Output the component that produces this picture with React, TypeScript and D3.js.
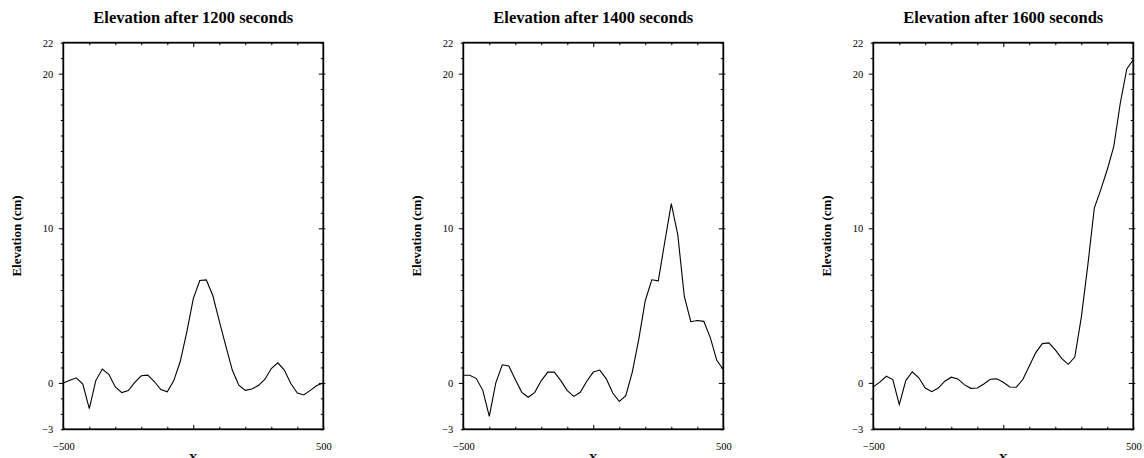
import React, { useEffect, useRef } from "react";
import * as d3 from "d3";

// x positions (shared by all three snapshots)
const xVals = [
  -500, -475, -450, -425, -400, -375, -350, -325, -300, -275, -250, -225, -200, -175,
  -150, -125, -100, -75, -50, -25, 0, 25, 50, 75, 100, 125, 150, 175, 200, 225, 250,
  275, 300, 325, 350, 375, 400, 425, 450, 475, 500,
];

const elev1200 = [
  0, 0.17, 0.33, -0.07, -1.67, 0.15, 0.9, 0.56, -0.26, -0.63, -0.5, 0.04, 0.46, 0.5,
  0.09, -0.43, -0.57, 0.15, 1.4, 3.3, 5.45, 6.62, 6.66, 5.65, 4.0, 2.4, 0.83, -0.15,
  -0.48, -0.4, -0.17, 0.22, 0.93, 1.3, 0.83, -0.04, -0.65, -0.78, -0.48, -0.17, 0,
];

const elev1400 = [
  0.5, 0.5, 0.28, -0.48, -2.17, 0, 1.17, 1.09, 0.22, -0.61, -0.93, -0.61, 0.15, 0.7,
  0.7, 0.15, -0.5, -0.87, -0.61, 0.11, 0.7, 0.83, 0.26, -0.65, -1.2, -0.83, 0.7, 2.83,
  5.33, 6.67, 6.6, 9.13, 11.59, 9.57, 5.6, 3.96, 4.04, 3.98, 2.93, 1.46, 0.87,
];

const elev1600 = [
  -0.26, 0.05, 0.43, 0.22, -1.41, 0.15, 0.72, 0.33, -0.33, -0.57, -0.33, 0.11, 0.37,
  0.26, -0.11, -0.35, -0.33, -0.07, 0.24, 0.26, 0.04, -0.26, -0.28, 0.22, 1.09, 1.96,
  2.54, 2.59, 2.13, 1.57, 1.2, 1.67, 4.24, 7.6, 11.3, 12.5, 13.8, 15.3, 18.1, 20.3, 20.9,
];

const seconds = [1200, 1400, 1600];
const yTickLabels = [-3, 0, 10, 20, 22];
const xTickLabels = [-500, 500];

const font = "'Liberation Serif', 'Times New Roman', serif";

export default function App() {
  const svgRef = useRef<SVGSVGElement>(null);

  useEffect(() => {
    const width = 1144;
    const height = 458;
    const svg = d3.select(svgRef.current).attr("width", width).attr("height", height);
    svg.selectAll("*").remove();

    const series = [elev1200, elev1400, elev1600];
    const lefts = [63.3, 463.3, 873.3];
    const plotW = 260;
    const top = 42.7;
    const bottom = 429.3;

    const y = d3.scaleLinear().domain([-3, 22]).range([bottom, top]);
    const fmt = (v: number) => String(v).replace("-", "\u2212");

    series.forEach((vals, k) => {
      const x = d3.scaleLinear().domain([-500, 500]).range([lefts[k], lefts[k] + plotW]);
      const g = svg.append("g");

      // title
      g.append("text")
        .attr("x", lefts[k] + plotW / 2)
        .attr("y", 23)
        .attr("text-anchor", "middle")
        .style("font-family", font)
        .attr("font-weight", "bold")
        .attr("font-size", 16.5)
        .text(`Elevation after ${seconds[k]} seconds`);

      // left axis
      const left = g.append("g")
        .attr("transform", `translate(${lefts[k]},0)`)
        .call(
          d3.axisLeft(y)
            .tickValues(d3.range(-3, 23))
            .tickSizeOuter(0)
            .tickPadding(4)
            .tickFormat((d) => (yTickLabels.includes(+d) ? fmt(+d) : ""))
        );
      left.select(".domain").remove();
      left.selectAll(".tick line").attr("x2", (d: any) => (d % 10 === 0 ? -4.5 : -2.5)).attr("stroke-width", 1);
      left.selectAll(".tick text").style("font-family", font).style("font-size", "10.5px").attr("fill", "#000");

      // right axis (inward ticks)
      const right = g.append("g")
        .attr("transform", `translate(${lefts[k] + plotW},0)`)
        .call(d3.axisLeft(y).tickValues(d3.range(-3, 23)).tickSizeOuter(0).tickFormat(() => ""));
      right.select(".domain").remove();
      right.selectAll(".tick line")
        .attr("x1", (d: any) => (d % 10 === 0 ? 2 : 0))
        .attr("x2", (d: any) => (d % 10 === 0 ? -4.5 : -2.5));

      // bottom axis
      const bot = g.append("g")
        .attr("transform", `translate(0,${bottom})`)
        .call(
          d3.axisBottom(x)
            .tickValues(d3.range(-500, 501, 100))
            .tickSizeOuter(0)
            .tickPadding(7)
            .tickFormat((d) => (xTickLabels.includes(+d) ? fmt(+d) : ""))
        );
      bot.select(".domain").remove();
      bot.selectAll(".tick line").attr("y2", (d: any) => (d === 0 ? -4.5 : -2.5));
      bot.selectAll(".tick text").style("font-family", font).style("font-size", "10.5px").attr("fill", "#000");

      // top axis
      const topAx = g.append("g")
        .attr("transform", `translate(0,${top})`)
        .call(d3.axisTop(x).tickValues(d3.range(-400, 401, 100)).tickSizeOuter(0).tickFormat(() => ""));
      topAx.select(".domain").remove();
      topAx.selectAll(".tick line").attr("y2", (d: any) => (d === 0 ? 4.5 : 2.5));

      // frame
      g.append("rect")
        .attr("x", lefts[k])
        .attr("y", top)
        .attr("width", plotW)
        .attr("height", bottom - top)
        .attr("fill", "none")
        .attr("stroke", "#000")
        .attr("stroke-width", 1.8);

      // data line
      const line = d3.line<number>()
        .x((_, i) => x(xVals[i]))
        .y((d) => y(d));
      g.append("path")
        .datum(vals)
        .attr("d", line)
        .attr("fill", "none")
        .attr("stroke", "#000")
        .attr("stroke-width", 1.1);

      // axis titles
      g.append("text")
        .attr("transform", `translate(${lefts[k] - 42},${(top + bottom) / 2}) rotate(-90)`)
        .attr("text-anchor", "middle")
        .style("font-family", font)
        .attr("font-weight", "bold")
        .attr("font-size", 13)
        .text("Elevation (cm)");

      g.append("text")
        .attr("x", lefts[k] + plotW / 2)
        .attr("y", 462)
        .attr("text-anchor", "middle")
        .style("font-family", font)
        .attr("font-weight", "bold")
        .attr("font-size", 13)
        .text("X");
    });
  }, []);

  return (
    <div>
      <svg ref={svgRef} style={{ position: "absolute", left: 0, top: 0, background: "#fff" }}></svg>
    </div>
  );
}
